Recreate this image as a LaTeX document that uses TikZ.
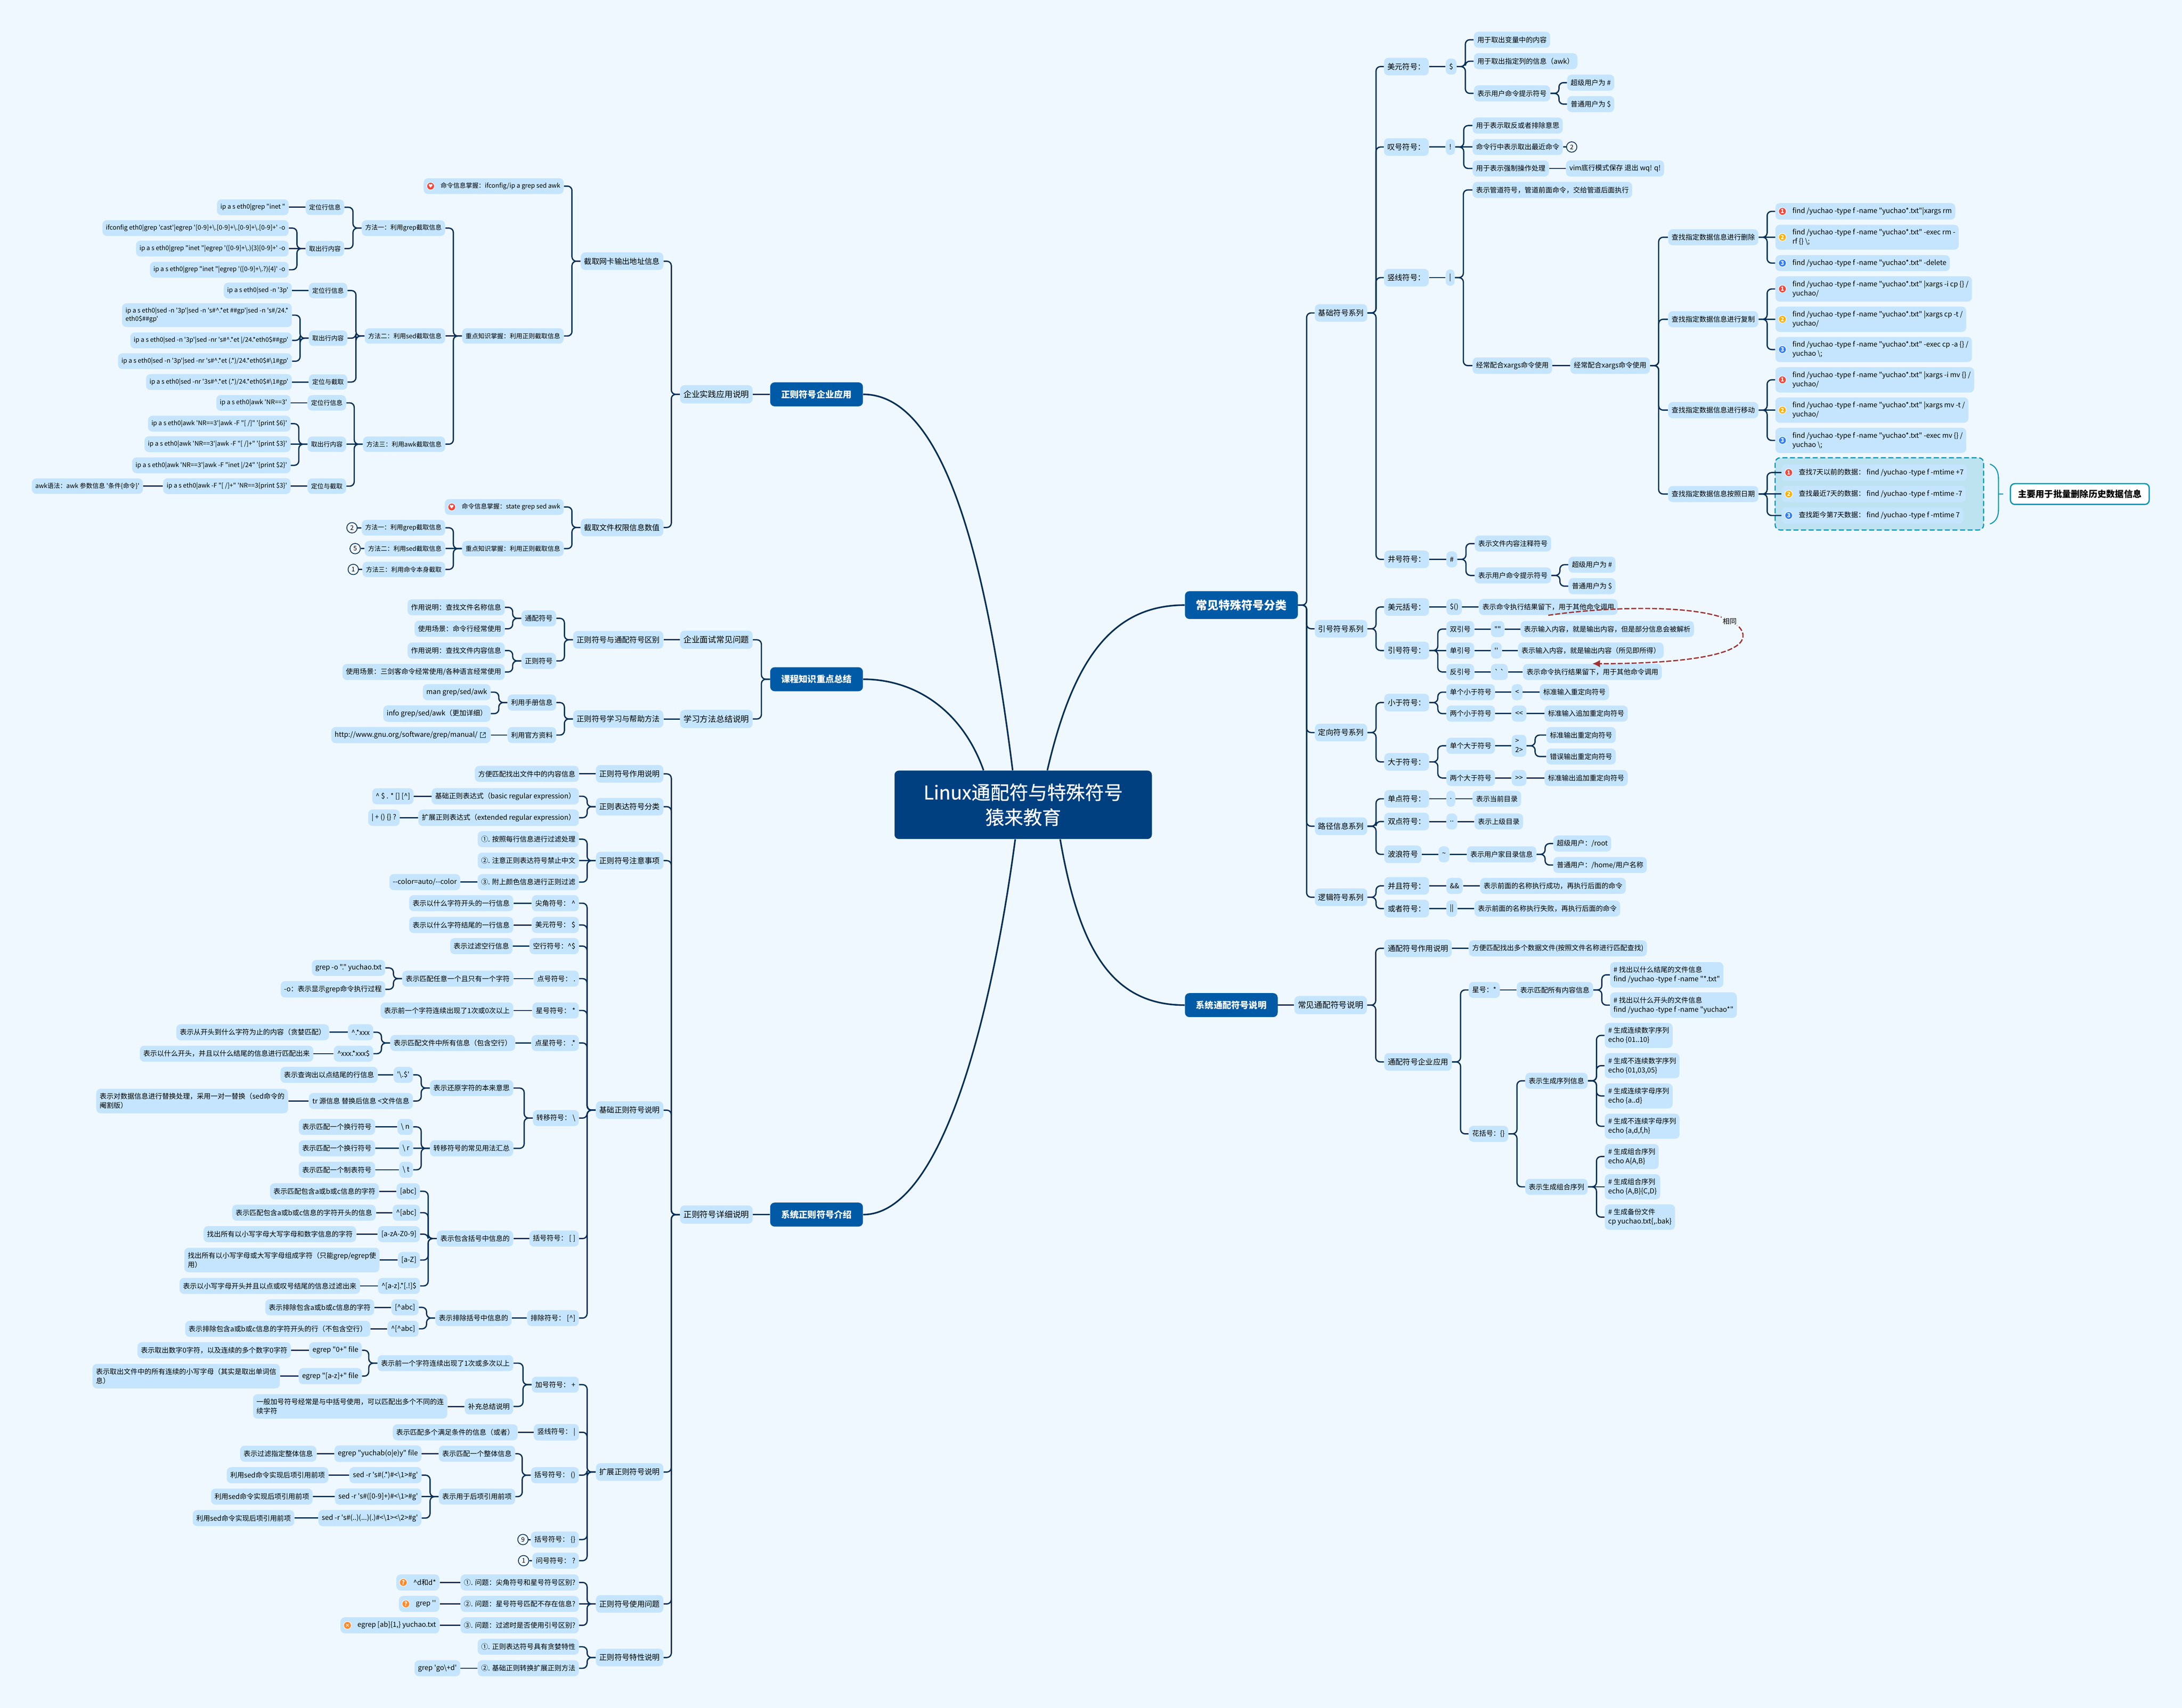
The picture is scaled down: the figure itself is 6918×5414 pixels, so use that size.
\documentclass[tikz,border=0pt]{standalone}
\usepackage{fontspec}
\usetikzlibrary{arrows.meta}
\newfontfamily\mapfont{Noto Sans CJK SC}
\newfontfamily\rootfont[FakeBold=0.4]{Noto Sans CJK SC}
\newfontfamily\symfont{DejaVu Sans}
\newcommand\ca{\textasciicircum}
\newcommand\bsl{\textbackslash}
\newcommand\mk{\hspace*{10.75pt}}
\definecolor{pagecol}{HTML}{F0F8FF}
\definecolor{nodecol}{HTML}{C5E5FF}
\definecolor{linecol}{HTML}{022F56}
\definecolor{rootcol}{HTML}{004080}
\definecolor{maincol}{HTML}{015AA5}
\definecolor{tealcol}{HTML}{0097B7}
\definecolor{groupcol}{HTML}{BEE3F0}
\definecolor{relcol}{HTML}{9E3232}
\definecolor{markred}{HTML}{F0483E}
\definecolor{markyel}{HTML}{FFB000}
\definecolor{markblue}{HTML}{2F7CF6}
\definecolor{markorg}{HTML}{FF8A2B}
\tikzset{>=latex}
\tikzset{
  topic/.style={fill=nodecol,rounded corners=3.5pt,align=left,inner xsep=2.75pt,inner ysep=3.5pt},
  leaf/.style={topic,font=\mapfont\fontsize{5.5}{7.25}\selectfont,minimum height=12.75pt},
  tiny/.style={topic,font=\mapfont\fontsize{5}{6.5}\selectfont,minimum height=12.25pt},
  stem/.style={topic,font=\mapfont\fontsize{6}{7.5}\selectfont,minimum height=14pt},
  limb/.style={topic,font=\mapfont\fontsize{6.5}{8}\selectfont,minimum height=14.5pt},
  branch/.style={fill=maincol,text=white,rounded corners=3.5pt,inner xsep=8.75pt,inner ysep=2pt,font=\mapfont\bfseries\fontsize{7}{8.5}\selectfont,minimum height=19pt},
  toright/.style={anchor=west},
  toleft/.style={anchor=east},
  marker/.style={circle,draw=white,line width=.4pt,inner sep=0pt,minimum size=6pt,text=white,font=\mapfont\bfseries\fontsize{4.5}{4.5}\selectfont},
  countmark/.style={circle,draw=linecol,line width=.6pt,fill=pagecol,inner sep=0pt,minimum size=8.25pt,font=\mapfont\fontsize{5}{5}\selectfont},
  link/.style={draw=linecol,line width=1pt,rounded corners=3.5pt},
  rlink/.style={link,to path={-- ++(27,0) |- (\tikztotarget)}},
  llink/.style={link,to path={-- ++(-27,0) |- (\tikztotarget)}},
  trunk/.style={draw=linecol,line width=1.25pt}
}
\begin{document}
\begin{tikzpicture}[x=.25pt,y=-.25pt]
  \fill [pagecol] (0,0) rectangle (6918,5414);
  \useasboundingbox (0,0) rectangle (6918,5414);
  \draw [fill=groupcol,draw=tealcol,line width=.9pt,dash pattern=on 4pt off 2pt,rounded corners=4pt] (5628,1451) rectangle (6289,1680);

  \node [fill=rootcol,text=white,rounded corners=3.5pt,align=center,minimum width=204pt,minimum height=54.25pt,font=\rootfont\fontsize{15}{19.75}\selectfont] (root) at (3244,2551) {Linux通配符与特殊符号\\猿来教育};
  \node [branch,toright,font=\mapfont\bfseries\fontsize{9}{11}\selectfont,minimum height=22pt] (sym) at (3756,1918) {常见特殊符号分类};
  \node [branch,toright] (wild) at (3756,3186) {系统通配符号说明};
  \node [branch,toright] (app) at (2441,1250) {正则符号企业应用};
  \node [branch,toright] (course) at (2441,2153) {课程知识重点总结};
  \node [branch,toright] (regex) at (2441,3850) {系统正则符号介绍};
  \draw [trunk] (root.55) .. controls (3400,2100) and (3520,1918) .. (sym.west);
  \draw [trunk] (root.317) .. controls (3420,3000) and (3520,3186) .. (wild.west);
  \draw [trunk] (root.107) .. controls (3130,1800) and (3000,1250) .. (app.east);
  \draw [trunk] (root.139) .. controls (3050,2250) and (2900,2153) .. (course.east);
  \draw [trunk] (root.257) .. controls (3140,3250) and (2980,3850) .. (regex.east);

  \node [stem,toright] (base) at (4168,992) {基础符号系列};
  \node [stem,toright] (quote) at (4168,1993) {引号符号系列};
  \node [stem,toright] (redir) at (4168,2322) {定向符号系列};
  \node [stem,toright] (path) at (4168,2619) {路径信息系列};
  \node [stem,toright] (logic) at (4168,2844) {逻辑符号系列};
  \draw [rlink] (sym.east) to (base.west);
  \draw [rlink] (sym.east) to (quote.west);
  \draw [rlink] (sym.east) to (redir.west);
  \draw [rlink] (sym.east) to (path.west);
  \draw [rlink] (sym.east) to (logic.west);

  \node [stem,toright] (dollar) at (4387,211) {美元符号：};
  \node [leaf,toright] (dollar0) at (4583,211) {\$};
  \node [leaf,toright] (dollar1) at (4672,126) {用于取出变量中的内容};
  \node [leaf,toright] (dollar2) at (4672,194) {用于取出指定列的信息（awk）};
  \node [leaf,toright] (dollar3) at (4672,296) {表示用户命令提示符号};
  \node [leaf,toright] (dollar4) at (4968,262) {超级用户为 \#};
  \node [leaf,toright] (dollar5) at (4968,330) {普通用户为 \$};
  \node [stem,toright] (bang) at (4387,466) {叹号符号：};
  \node [leaf,toright] (bang0) at (4583,466) {!};
  \node [leaf,toright] (bang1) at (4668,398) {用于表示取反或者排除意思};
  \node [leaf,toright] (bang2) at (4668,466) {命令行中表示取出最近命令};
  \node [countmark] (bang2c) at (4983,466) {2};
  \node [leaf,toright] (bang3) at (4668,534) {用于表示强制操作处理};
  \node [leaf,toright] (bang4) at (4964,534) {vim底行模式保存 退出 wq! q!};
  \node [stem,toright] (pipe) at (4387,880) {竖线符号：};
  \node [leaf,toright] (pipe0) at (4583,880) {|};
  \node [leaf,toright] (pipe1) at (4668,602) {表示管道符号，管道前面命令，交给管道后面执行};
  \node [leaf,toright] (pipe2) at (4668,1159) {经常配合xargs命令使用};
  \node [leaf,toright] (pipe3) at (4978,1159) {经常配合xargs命令使用};
  \node [leaf,toright] (del) at (5288,752) {查找指定数据信息进行删除};
  \node [leaf,toright] (del1) at (5628,670) {\mk find /yuchao -type f -name "yuchao*.txt"|xargs rm};
  \node [leaf,toright] (del2) at (5628,752) {\mk find /yuchao -type f -name "yuchao*.txt" -exec rm -\\\mk rf \{\} \bsl{};};
  \node [leaf,toright] (del3) at (5628,834) {\mk find /yuchao -type f -name "yuchao*.txt" -delete};
  \node [leaf,toright] (cpy) at (5288,1012) {查找指定数据信息进行复制};
  \node [leaf,toright] (cpy1) at (5628,916) {\mk find /yuchao -type f -name "yuchao*.txt" |xargs -i cp \{\} /\\\mk yuchao/};
  \node [leaf,toright] (cpy2) at (5628,1012) {\mk find /yuchao -type f -name "yuchao*.txt" |xargs cp -t /\\\mk yuchao/};
  \node [leaf,toright] (cpy3) at (5628,1108) {\mk find /yuchao -type f -name "yuchao*.txt" -exec cp -a \{\} /\\\mk yuchao \bsl{};};
  \node [leaf,toright] (mov) at (5288,1300) {查找指定数据信息进行移动};
  \node [leaf,toright] (mov1) at (5628,1204) {\mk find /yuchao -type f -name "yuchao*.txt" |xargs -i mv \{\} /\\\mk yuchao/};
  \node [leaf,toright] (mov2) at (5628,1300) {\mk find /yuchao -type f -name "yuchao*.txt" |xargs mv -t /\\\mk yuchao/};
  \node [leaf,toright] (mov3) at (5628,1396) {\mk find /yuchao -type f -name "yuchao*.txt" -exec mv \{\} /\\\mk yuchao \bsl{};};
  \node [leaf,toright] (dat) at (5288,1566) {查找指定数据信息按照日期};
  \node [leaf,toright] (dat1) at (5648,1498) {\mk 查找7天以前的数据： find /yuchao -type f -mtime +7};
  \node [leaf,toright] (dat2) at (5648,1566) {\mk 查找最近7天的数据： find /yuchao -type f -mtime -7};
  \node [leaf,toright] (dat3) at (5648,1634) {\mk 查找距今第7天数据： find /yuchao -type f -mtime 7};
  \node [marker,fill=markred] (del1m) at ([xshift=5.75pt]del1.west) {1};
  \node [marker,fill=markyel] (del2m) at ([xshift=5.75pt]del2.west) {2};
  \node [marker,fill=markblue] (del3m) at ([xshift=5.75pt]del3.west) {3};
  \node [marker,fill=markred] (cpy1m) at ([xshift=5.75pt]cpy1.west) {1};
  \node [marker,fill=markyel] (cpy2m) at ([xshift=5.75pt]cpy2.west) {2};
  \node [marker,fill=markblue] (cpy3m) at ([xshift=5.75pt]cpy3.west) {3};
  \node [marker,fill=markred] (mov1m) at ([xshift=5.75pt]mov1.west) {1};
  \node [marker,fill=markyel] (mov2m) at ([xshift=5.75pt]mov2.west) {2};
  \node [marker,fill=markblue] (mov3m) at ([xshift=5.75pt]mov3.west) {3};
  \node [marker,fill=markred] (dat1m) at ([xshift=5.75pt]dat1.west) {1};
  \node [marker,fill=markyel] (dat2m) at ([xshift=5.75pt]dat2.west) {2};
  \node [marker,fill=markblue] (dat3m) at ([xshift=5.75pt]dat3.west) {3};
  \node [fill=white,draw=tealcol,line width=1pt,rounded corners=3.5pt,minimum height=16.5pt,inner xsep=6pt,font=\mapfont\bfseries\fontsize{7}{8.5}\selectfont,anchor=west] (note) at (6372,1566) {主要用于批量删除历史数据信息};
  \coordinate (bracetip) at (6351,1566);
  \draw [draw=tealcol,line width=.8pt] (6309,1471) .. controls (6328,1478) and (6336,1495) .. (6336,1517) -- (6336,1616) .. controls (6336,1638) and (6328,1654) .. (6309,1661) (6336,1566) -- (bracetip);
  \node [stem,toright] (hash) at (4388,1773) {井号符号：};
  \node [leaf,toright] (hash0) at (4585,1773) {\#};
  \node [leaf,toright] (hash1) at (4675,1723) {表示文件内容注释符号};
  \node [leaf,toright] (hash2) at (4675,1824) {表示用户命令提示符号};
  \node [leaf,toright] (hash3) at (4972,1790) {超级用户为 \#};
  \node [leaf,toright] (hash4) at (4972,1858) {普通用户为 \$};
  \draw [rlink] (base.east) to (dollar.west);
  \draw [rlink] (base.east) to (bang.west);
  \draw [rlink] (base.east) to (pipe.west);
  \draw [rlink] (base.east) to (hash.west);
  \draw [link] (dollar.east) -- (dollar0.west);
  \draw [rlink] (dollar0.east) to (dollar1.west);
  \draw [rlink] (dollar0.east) to (dollar2.west);
  \draw [rlink] (dollar0.east) to (dollar3.west);
  \draw [rlink] (dollar3.east) to (dollar4.west);
  \draw [rlink] (dollar3.east) to (dollar5.west);
  \draw [link] (bang.east) -- (bang0.west);
  \draw [rlink] (bang0.east) to (bang1.west);
  \draw [link] (bang0.east) -- (bang2.west);
  \draw [rlink] (bang0.east) to (bang3.west);
  \draw [link] (bang2.east) -- (bang2c.west);
  \draw [link] (bang3.east) -- (bang4.west);
  \draw [link] (pipe.east) -- (pipe0.west);
  \draw [rlink] (pipe0.east) to (pipe1.west);
  \draw [rlink] (pipe0.east) to (pipe2.west);
  \draw [link] (pipe2.east) -- (pipe3.west);
  \draw [rlink] (pipe3.east) to (del.west);
  \draw [rlink] (pipe3.east) to (cpy.west);
  \draw [rlink] (pipe3.east) to (mov.west);
  \draw [rlink] (pipe3.east) to (dat.west);
  \draw [rlink] (del.east) to (del1.west);
  \draw [link] (del.east) -- (del2.west);
  \draw [rlink] (del.east) to (del3.west);
  \draw [rlink] (cpy.east) to (cpy1.west);
  \draw [link] (cpy.east) -- (cpy2.west);
  \draw [rlink] (cpy.east) to (cpy3.west);
  \draw [rlink] (mov.east) to (mov1.west);
  \draw [link] (mov.east) -- (mov2.west);
  \draw [rlink] (mov.east) to (mov3.west);
  \draw [rlink] (dat.east) to (dat1.west);
  \draw [link] (dat.east) -- (dat2.west);
  \draw [rlink] (dat.east) to (dat3.west);
  \draw [link] (hash.east) -- (hash0.west);
  \draw [rlink] (hash0.east) to (hash1.west);
  \draw [rlink] (hash0.east) to (hash2.west);
  \draw [rlink] (hash2.east) to (hash3.west);
  \draw [rlink] (hash2.east) to (hash4.west);

  \node [stem,toright] (paren) at (4388,1924) {美元括号：};
  \node [leaf,toright] (paren0) at (4585,1924) {\$()};
  \node [leaf,toright] (paren1) at (4688,1924) {表示命令执行结果留下，用于其他命令调用};
  \node [stem,toright] (qmark) at (4388,2062) {引号符号：};
  \node [leaf,toright] (dq) at (4585,1994) {双引号};
  \node [leaf,toright] (dq0) at (4726,1994) {""};
  \node [leaf,toright] (dq1) at (4820,1994) {表示输入内容，就是输出内容，但是部分信息会被解析};
  \node [leaf,toright] (sq) at (4585,2062) {单引号};
  \node [leaf,toright] (sq0) at (4726,2062) {''};
  \node [leaf,toright] (sq1) at (4812,2062) {表示输入内容，就是输出内容（所见即所得）};
  \node [leaf,toright] (bq) at (4585,2130) {反引号};
  \node [leaf,toright] (bq0) at (4726,2130) {` `};
  \node [leaf,toright] (bq1) at (4828,2130) {表示命令执行结果留下，用于其他命令调用};
  \draw [rlink] (quote.east) to (paren.west);
  \draw [rlink] (quote.east) to (qmark.west);
  \draw [link] (paren.east) -- (paren0.west);
  \draw [link] (paren0.east) -- (paren1.west);
  \draw [rlink] (qmark.east) to (dq.west);
  \draw [link] (qmark.east) -- (sq.west);
  \draw [rlink] (qmark.east) to (bq.west);
  \draw [link] (dq.east) -- (dq0.west);
  \draw [link] (dq0.east) -- (dq1.west);
  \draw [link] (sq.east) -- (sq0.west);
  \draw [link] (sq0.east) -- (sq1.west);
  \draw [link] (bq.east) -- (bq0.west);
  \draw [link] (bq0.east) -- (bq1.west);
  \draw [draw=relcol,line width=1pt,dash pattern=on 4pt off 1.5pt,-{Latex[length=6pt,width=6pt]}] (paren1.south) .. controls (5150,1915) and (5510,1915) .. (5526,2011) .. controls (5536,2090) and (5250,2104) .. (bq1.north);
  \node [fill=pagecol,font=\mapfont\fontsize{5.5}{7.25}\selectfont,inner sep=1pt] (same) at (5484,1969) {相同};

  \node [stem,toright] (less) at (4388,2227) {小于符号：};
  \node [leaf,toright] (less1) at (4585,2194) {单个小于符号};
  \node [leaf,toright] (less2) at (4792,2194) {<};
  \node [leaf,toright] (less3) at (4881,2194) {标准输入重定向符号};
  \node [leaf,toright] (less4) at (4585,2262) {两个小于符号};
  \node [leaf,toright] (less5) at (4792,2262) {<<};
  \node [leaf,toright] (less6) at (4896,2262) {标准输入追加重定向符号};
  \node [stem,toright] (more) at (4388,2415) {大于符号：};
  \node [leaf,toright] (more1) at (4585,2364) {单个大于符号};
  \node [leaf,toright] (more2) at (4792,2364) {>\\2>};
  \node [leaf,toright] (more3) at (4902,2330) {标准输出重定向符号};
  \node [leaf,toright] (more4) at (4902,2398) {错误输出重定向符号};
  \node [leaf,toright] (more5) at (4585,2466) {两个大于符号};
  \node [leaf,toright] (more6) at (4792,2466) {>>};
  \node [leaf,toright] (more7) at (4896,2466) {标准输出追加重定向符号};
  \draw [rlink] (redir.east) to (less.west);
  \draw [rlink] (redir.east) to (more.west);
  \draw [rlink] (less.east) to (less1.west);
  \draw [rlink] (less.east) to (less4.west);
  \draw [link] (less1.east) -- (less2.west);
  \draw [link] (less2.east) -- (less3.west);
  \draw [link] (less4.east) -- (less5.west);
  \draw [link] (less5.east) -- (less6.west);
  \draw [rlink] (more.east) to (more1.west);
  \draw [rlink] (more.east) to (more5.west);
  \draw [link] (more1.east) -- (more2.west);
  \draw [rlink] (more2.east) to (more3.west);
  \draw [rlink] (more2.east) to (more4.west);
  \draw [link] (more5.east) -- (more6.west);
  \draw [link] (more6.east) -- (more7.west);

  \node [stem,toright] (dot) at (4388,2532) {单点符号：};
  \node [leaf,toright] (dot0) at (4585,2532) {.};
  \node [leaf,toright] (dot1) at (4668,2532) {表示当前目录};
  \node [stem,toright] (ddot) at (4388,2604) {双点符号：};
  \node [leaf,toright] (ddot0) at (4585,2604) {..};
  \node [leaf,toright] (ddot1) at (4674,2604) {表示上级目录};
  \node [stem,toright] (tilde) at (4388,2708) {波浪符号};
  \node [leaf,toright] (tilde0) at (4560,2708) {\textasciitilde{}};
  \node [leaf,toright] (tilde1) at (4650,2708) {表示用户家目录信息};
  \node [leaf,toright] (tilde2) at (4924,2674) {超级用户：/root};
  \node [leaf,toright] (tilde3) at (4924,2742) {普通用户：/home/用户名称};
  \draw [rlink] (path.east) to (dot.west);
  \draw [rlink] (path.east) to (ddot.west);
  \draw [rlink] (path.east) to (tilde.west);
  \draw [link] (dot.east) -- (dot0.west);
  \draw [link] (dot0.east) -- (dot1.west);
  \draw [link] (ddot.east) -- (ddot0.west);
  \draw [link] (ddot0.east) -- (ddot1.west);
  \draw [link] (tilde.east) -- (tilde0.west);
  \draw [link] (tilde0.east) -- (tilde1.west);
  \draw [rlink] (tilde1.east) to (tilde2.west);
  \draw [rlink] (tilde1.east) to (tilde3.west);

  \node [stem,toright] (andb) at (4388,2808) {并且符号：};
  \node [leaf,toright] (andb0) at (4585,2808) {\&\&};
  \node [leaf,toright] (andb1) at (4692,2808) {表示前面的名称执行成功，再执行后面的命令};
  \node [stem,toright] (orb) at (4388,2880) {或者符号：};
  \node [leaf,toright] (orb0) at (4585,2880) {||};
  \node [leaf,toright] (orb1) at (4674,2880) {表示前面的名称执行失败，再执行后面的命令};
  \draw [rlink] (logic.east) to (andb.west);
  \draw [rlink] (logic.east) to (orb.west);
  \draw [link] (andb.east) -- (andb0.west);
  \draw [link] (andb0.east) -- (andb1.west);
  \draw [link] (orb.east) -- (orb0.west);
  \draw [link] (orb0.east) -- (orb1.west);

  \node [limb,toright] (wild0) at (4103,3186) {常见通配符号说明};
  \node [stem,toright] (wild1) at (4388,3006) {通配符号作用说明};
  \node [leaf,toright] (wild2) at (4656,3006) {方便匹配找出多个数据文件(按照文件名称进行匹配查找)};
  \node [stem,toright] (wild3) at (4388,3366) {通配符号企业应用};
  \node [leaf,toright] (star) at (4656,3138) {星号：*};
  \node [leaf,toright] (star0) at (4808,3138) {表示匹配所有内容信息};
  \node [leaf,toright] (star1) at (5104,3090) {\# 找出以什么结尾的文件信息\\find /yuchao -type f -name "*.txt"};
  \node [leaf,toright] (star2) at (5104,3186) {\# 找出以什么开头的文件信息\\find /yuchao -type f -name "yuchao*"};
  \node [leaf,toright] (brace) at (4656,3594) {花括号：\{\}};
  \node [leaf,toright] (seq) at (4835,3426) {表示生成序列信息};
  \node [leaf,toright] (seq1) at (5087,3282) {\# 生成连续数字序列\\echo \{01..10\}};
  \node [leaf,toright] (seq2) at (5087,3378) {\# 生成不连续数字序列\\echo \{01,03,05\}};
  \node [leaf,toright] (seq3) at (5087,3474) {\# 生成连续字母序列\\echo \{a..d\}};
  \node [leaf,toright] (seq4) at (5087,3570) {\# 生成不连续字母序列\\echo \{a,d,f,h\}};
  \node [leaf,toright] (comb) at (4835,3762) {表示生成组合序列};
  \node [leaf,toright] (comb1) at (5087,3666) {\# 生成组合序列\\echo A\{A,B\}};
  \node [leaf,toright] (comb2) at (5087,3762) {\# 生成组合序列\\echo \{A,B\}\{C,D\}};
  \node [leaf,toright] (comb3) at (5087,3858) {\# 生成备份文件\\cp yuchao.txt\{,.bak\}};
  \draw [link] (wild.east) -- (wild0.west);
  \draw [rlink] (wild0.east) to (wild1.west);
  \draw [rlink] (wild0.east) to (wild3.west);
  \draw [link] (wild1.east) -- (wild2.west);
  \draw [rlink] (wild3.east) to (star.west);
  \draw [rlink] (wild3.east) to (brace.west);
  \draw [link] (star.east) -- (star0.west);
  \draw [rlink] (star0.east) to (star1.west);
  \draw [rlink] (star0.east) to (star2.west);
  \draw [rlink] (brace.east) to (seq.west);
  \draw [rlink] (brace.east) to (comb.west);
  \draw [rlink] (seq.east) to (seq1.west);
  \draw [rlink] (seq.east) to (seq2.west);
  \draw [rlink] (seq.east) to (seq3.west);
  \draw [rlink] (seq.east) to (seq4.west);
  \draw [rlink] (comb.east) to (comb1.west);
  \draw [link] (comb.east) -- (comb2.west);
  \draw [rlink] (comb.east) to (comb3.west);

  \node [limb,toleft] (app0) at (2387,1250) {企业实践应用说明};
  \node [stem,toleft] (net) at (2104,828) {截取网卡输出地址信息};
  \node [stem,toleft] (perm) at (2104,1672) {截取文件权限信息数值};
  \node [tiny,toleft] (net1) at (1788,590) {\mk 命令信息掌握：ifconfig/ip a grep sed awk};
  \node [marker,fill=markred,font=\symfont\fontsize{4}{4}\selectfont] (net1m) at ([xshift=5.75pt]net1.west) {♥};
  \node [tiny,toleft] (net2) at (1788,1065) {重点知识掌握：利用正则截取信息};
  \node [tiny,toleft] (ga) at (1412,723) {方法一：利用grep截取信息};
  \node [tiny,toleft] (ga1) at (1092,657) {定位行信息};
  \node [tiny,toleft] (ga2) at (916,657) {ip a s eth0|grep "inet "};
  \node [tiny,toleft] (ga3) at (1092,788) {取出行内容};
  \node [tiny,toleft] (ga4) at (916,723) {ifconfig eth0|grep 'cast'|egrep '[0-9]+\bsl{}.[0-9]+\bsl{}.[0-9]+\bsl{}.[0-9]+' -o};
  \node [tiny,toleft] (ga5) at (916,788) {ip a s eth0|grep "inet "|egrep '([0-9]+\bsl{}.)\{3\}[0-9]+' -o};
  \node [tiny,toleft] (ga6) at (916,855) {ip a s eth0|grep "inet "|egrep '([0-9]+\bsl{}.?)\{4\}' -o};
  \node [tiny,toleft] (sa) at (1412,1065) {方法二：利用sed截取信息};
  \node [tiny,toleft] (sa1) at (1102,921) {定位行信息};
  \node [tiny,toleft] (sa2) at (926,921) {ip a s eth0|sed -n '3p'};
  \node [tiny,toleft] (sa3) at (1102,1072) {取出行内容};
  \node [tiny,toleft] (sa4) at (926,999) {ip a s eth0|sed -n '3p'|sed -n 's\#\ca{}.*et \#\#gp'|sed -n 's\#/24.*\\eth0\$\#\#gp'};
  \node [tiny,toleft] (sa5) at (926,1079) {ip a s eth0|sed -n '3p'|sed -nr 's\#\ca{}.*et |/24.*eth0\$\#\#gp'};
  \node [tiny,toleft] (sa6) at (926,1145) {ip a s eth0|sed -n '3p'|sed -nr 's\#\ca{}.*et (.*)/24.*eth0\$\#\bsl{}1\#gp'};
  \node [tiny,toleft] (sa7) at (1102,1211) {定位与截取};
  \node [tiny,toleft] (sa8) at (926,1211) {ip a s eth0|sed -nr '3s\#\ca{}.*et (.*)/24.*eth0\$\#\bsl{}1\#gp'};
  \node [tiny,toleft] (wa) at (1412,1408) {方法三：利用awk截取信息};
  \node [tiny,toleft] (wa1) at (1098,1277) {定位行信息};
  \node [tiny,toleft] (wa2) at (922,1277) {ip a s eth0|awk 'NR==3'};
  \node [tiny,toleft] (wa3) at (1098,1408) {取出行内容};
  \node [tiny,toleft] (wa4) at (922,1343) {ip a s eth0|awk 'NR==3'|awk -F "[ /]" '\{print \$6\}'};
  \node [tiny,toleft] (wa5) at (922,1408) {ip a s eth0|awk 'NR==3'|awk -F "[ /]+" '\{print \$3\}'};
  \node [tiny,toleft] (wa6) at (922,1475) {ip a s eth0|awk 'NR==3'|awk -F "inet |/24" '\{print \$2\}'};
  \node [tiny,toleft] (wa7) at (1098,1541) {定位与截取};
  \node [tiny,toleft] (wa8) at (922,1541) {ip a s eth0|awk -F "[ /]+" 'NR==3\{print \$3\}'};
  \node [tiny,toleft] (wa9) at (454,1541) {awk语法：awk 参数信息 '条件\{命令\}'};
  \node [tiny,toleft] (perm1) at (1788,1607) {\mk 命令信息掌握：state grep sed awk};
  \node [marker,fill=markred,font=\symfont\fontsize{4}{4}\selectfont] (perm1m) at ([xshift=5.75pt]perm1.west) {♥};
  \node [tiny,toleft] (perm2) at (1788,1739) {重点知识掌握：利用正则截取信息};
  \node [tiny,toleft] (pa) at (1412,1673) {方法一：利用grep截取信息};
  \node [tiny,toleft] (pb) at (1412,1739) {方法二：利用sed截取信息};
  \node [tiny,toleft] (pc) at (1412,1805) {方法三：利用命令本身截取};
  \node [countmark] (pac) at (1116,1673) {2};
  \node [countmark] (pbc) at (1126,1739) {5};
  \node [countmark] (pcc) at (1120,1805) {1};
  \draw [link] (app.west) -- (app0.east);
  \draw [llink] (app0.west) to (net.east);
  \draw [llink] (app0.west) to (perm.east);
  \draw [llink] (net.west) to (net1.east);
  \draw [llink] (net.west) to (net2.east);
  \draw [link] (net2.west) -- (sa.east);
  \draw [llink] (net2.west) to (ga.east);
  \draw [llink] (net2.west) to (wa.east);
  \draw [llink] (ga.west) to (ga1.east);
  \draw [llink] (ga.west) to (ga3.east);
  \draw [link] (ga1.west) -- (ga2.east);
  \draw [llink] (ga3.west) to (ga4.east);
  \draw [link] (ga3.west) -- (ga5.east);
  \draw [llink] (ga3.west) to (ga6.east);
  \draw [llink] (sa.west) to (sa1.east);
  \draw [llink] (sa.west) to (sa3.east);
  \draw [llink] (sa.west) to (sa7.east);
  \draw [link] (sa1.west) -- (sa2.east);
  \draw [llink] (sa3.west) to (sa4.east);
  \draw [llink] (sa3.west) to (sa5.east);
  \draw [llink] (sa3.west) to (sa6.east);
  \draw [link] (sa7.west) -- (sa8.east);
  \draw [llink] (wa.west) to (wa1.east);
  \draw [link] (wa.west) -- (wa3.east);
  \draw [llink] (wa.west) to (wa7.east);
  \draw [link] (wa1.west) -- (wa2.east);
  \draw [llink] (wa3.west) to (wa4.east);
  \draw [link] (wa3.west) -- (wa5.east);
  \draw [llink] (wa3.west) to (wa6.east);
  \draw [link] (wa7.west) -- (wa8.east);
  \draw [link] (wa8.west) -- (wa9.east);
  \draw [llink] (perm.west) to (perm1.east);
  \draw [llink] (perm.west) to (perm2.east);
  \draw [llink] (perm2.west) to (pa.east);
  \draw [link] (perm2.west) -- (pb.east);
  \draw [llink] (perm2.west) to (pc.east);
  \draw [link] (pa.west) -- (pac.east);
  \draw [link] (pb.west) -- (pbc.east);
  \draw [link] (pc.west) -- (pcc.east);

  \node [limb,toleft] (ask) at (2387,2028) {企业面试常见问题};
  \node [limb,toleft] (learn) at (2387,2279) {学习方法总结说明};
  \node [stem,toleft] (diff) at (2104,2028) {正则符号与通配符号区别};
  \node [stem,toleft] (help) at (2104,2279) {正则符号学习与帮助方法};
  \node [leaf,toleft] (diff1) at (1764,1960) {通配符号};
  \node [leaf,toleft] (diff2) at (1601,1925) {作用说明：查找文件名称信息};
  \node [leaf,toleft] (diff3) at (1601,1993) {使用场景：命令行经常使用};
  \node [leaf,toleft] (diff4) at (1764,2095) {正则符号};
  \node [leaf,toleft] (diff5) at (1601,2062) {作用说明：查找文件内容信息};
  \node [leaf,toleft] (diff6) at (1601,2130) {使用场景：三剑客命令经常使用/各种语言经常使用};
  \node [leaf,toleft] (help1) at (1764,2227) {利用手册信息};
  \node [leaf,toleft] (help2) at (1556,2194) {man grep/sed/awk};
  \node [leaf,toleft] (help3) at (1556,2262) {info grep/sed/awk（更加详细）};
  \node [leaf,toleft] (help4) at (1764,2330) {利用官方资料};
  \node [leaf,toleft] (help5) at (1556,2330) {http://www.gnu.org/software/grep/manual/\hspace{7.5pt}};
  \begin{scope}[shift={(1531,2330)},draw=linecol,line width=.4pt]
    \draw (-2,-8) -- (-8,-8) -- (-8,8) -- (8,8) -- (8,2) (1,-8) -- (8,-8) -- (8,-1) (8,-8) -- (-1,1);
  \end{scope}
  \draw [llink] (course.west) to (ask.east);
  \draw [llink] (course.west) to (learn.east);
  \draw [link] (ask.west) -- (diff.east);
  \draw [link] (learn.west) -- (help.east);
  \draw [llink] (diff.west) to (diff1.east);
  \draw [llink] (diff.west) to (diff4.east);
  \draw [llink] (diff1.west) to (diff2.east);
  \draw [llink] (diff1.west) to (diff3.east);
  \draw [llink] (diff4.west) to (diff5.east);
  \draw [llink] (diff4.west) to (diff6.east);
  \draw [llink] (help.west) to (help1.east);
  \draw [llink] (help.west) to (help4.east);
  \draw [llink] (help1.west) to (help2.east);
  \draw [llink] (help1.west) to (help3.east);
  \draw [link] (help4.west) -- (help5.east);

  \node [limb,toleft] (re0) at (2387,3850) {正则符号详细说明};
  \node [stem,toleft] (use) at (2104,2453) {正则符号作用说明};
  \node [leaf,toleft] (use1) at (1836,2453) {方便匹配找出文件中的内容信息};
  \node [stem,toleft] (kind) at (2104,2557) {正则表达符号分类};
  \node [leaf,toleft] (kind1) at (1836,2524) {基础正则表达式（basic regular expression）};
  \node [leaf,toleft] (kind2) at (1312,2524) {\ca{} \$ . * [] [\ca{}]};
  \node [leaf,toleft] (kind3) at (1836,2592) {扩展正则表达式（extended regular expression）};
  \node [leaf,toleft] (kind4) at (1268,2592) {| + () \{\} ?};
  \node [stem,toleft] (care) at (2104,2728) {正则符号注意事项};
  \node [leaf,toleft] (care1) at (1836,2660) {①. 按照每行信息进行过滤处理};
  \node [leaf,toleft] (care2) at (1836,2728) {②. 注意正则表达符号禁止中文};
  \node [leaf,toleft] (care3) at (1836,2796) {③. 附上颜色信息进行正则过滤};
  \node [leaf,toleft] (care4) at (1460,2796) {--color=auto/--color};
  \node [stem,toleft] (basic) at (2104,3519) {基础正则符号说明};
  \node [stem,toleft] (ext) at (2104,4666) {扩展正则符号说明};
  \node [stem,toleft] (prob) at (2104,5084) {正则符号使用问题};
  \node [stem,toleft] (trait) at (2104,5254) {正则符号特性说明};
  \draw [link] (regex.west) -- (re0.east);
  \draw [llink] (re0.west) to (use.east);
  \draw [llink] (re0.west) to (kind.east);
  \draw [llink] (re0.west) to (care.east);
  \draw [llink] (re0.west) to (basic.east);
  \draw [llink] (re0.west) to (ext.east);
  \draw [llink] (re0.west) to (prob.east);
  \draw [llink] (re0.west) to (trait.east);
  \draw [link] (use.west) -- (use1.east);
  \draw [llink] (kind.west) to (kind1.east);
  \draw [llink] (kind.west) to (kind3.east);
  \draw [link] (kind1.west) -- (kind2.east);
  \draw [link] (kind3.west) -- (kind4.east);
  \draw [llink] (care.west) to (care1.east);
  \draw [link] (care.west) -- (care2.east);
  \draw [llink] (care.west) to (care3.east);
  \draw [link] (care3.west) -- (care4.east);

  \node [leaf,toleft] (bs1) at (1836,2863) {尖角符号： \ca{}};
  \node [leaf,toleft] (bs1a) at (1628,2863) {表示以什么字符开头的一行信息};
  \node [leaf,toleft] (bs2) at (1836,2932) {美元符号： \$};
  \node [leaf,toleft] (bs2a) at (1628,2932) {表示以什么字符结尾的一行信息};
  \node [leaf,toleft] (bs3) at (1836,2999) {空行符号：\ca{}\$};
  \node [leaf,toleft] (bs3a) at (1626,2999) {表示过滤空行信息};
  \node [leaf,toleft] (bs4) at (1836,3102) {点号符号： .};
  \node [leaf,toleft] (bs4a) at (1628,3102) {表示匹配任意一个且只有一个字符};
  \node [leaf,toleft] (bs4b) at (1222,3068) {grep -o "." yuchao.txt};
  \node [leaf,toleft] (bs4c) at (1222,3136) {-o：表示显示grep命令执行过程};
  \node [leaf,toleft] (bs5) at (1836,3203) {星号符号： *};
  \node [leaf,toleft] (bs5a) at (1628,3203) {表示前一个字符连续出现了1次或0次以上};
  \node [leaf,toleft] (bs6) at (1836,3306) {点星符号： .*};
  \node [leaf,toleft] (bs6a) at (1634,3306) {表示匹配文件中所有信息（包含空行）};
  \node [leaf,toleft] (bs6b) at (1184,3272) {\ca{}.*xxx};
  \node [leaf,toleft] (bs6c) at (1044,3272) {表示从开头到什么字符为止的内容（贪婪匹配）};
  \node [leaf,toleft] (bs6d) at (1184,3340) {\ca{}xxx.*xxx\$};
  \node [leaf,toleft] (bs6e) at (994,3340) {表示以什么开头，并且以什么结尾的信息进行匹配出来};
  \draw [llink] (basic.west) to (bs1.east);
  \draw [llink] (basic.west) to (bs2.east);
  \draw [llink] (basic.west) to (bs3.east);
  \draw [llink] (basic.west) to (bs4.east);
  \draw [llink] (basic.west) to (bs5.east);
  \draw [llink] (basic.west) to (bs6.east);
  \draw [link] (bs1.west) -- (bs1a.east);
  \draw [link] (bs2.west) -- (bs2a.east);
  \draw [link] (bs3.west) -- (bs3a.east);
  \draw [link] (bs4.west) -- (bs4a.east);
  \draw [llink] (bs4a.west) to (bs4b.east);
  \draw [llink] (bs4a.west) to (bs4c.east);
  \draw [link] (bs5.west) -- (bs5a.east);
  \draw [link] (bs6.west) -- (bs6a.east);
  \draw [llink] (bs6a.west) to (bs6b.east);
  \draw [llink] (bs6a.west) to (bs6d.east);
  \draw [link] (bs6b.west) -- (bs6c.east);
  \draw [link] (bs6d.west) -- (bs6e.east);

  \node [leaf,toleft] (esc) at (1836,3544) {转移符号： \bsl{}};
  \node [leaf,toleft] (esc1) at (1628,3449) {表示还原字符的本来意思};
  \node [leaf,toleft] (esc2) at (1310,3407) {'\bsl{}.\$'};
  \node [leaf,toleft] (esc3) at (1198,3407) {表示查询出以点结尾的行信息};
  \node [leaf,toleft] (esc4) at (1310,3490) {tr 源信息 替换后信息 <文件信息};
  \node [leaf,toleft] (esc5) at (914,3490) {表示对数据信息进行替换处理，采用一对一替换（sed命令的\\阉割版）};
  \node [leaf,toleft] (esc6) at (1628,3640) {转移符号的常见用法汇总};
  \node [leaf,toleft] (esc7) at (1310,3572) {\bsl{} n};
  \node [leaf,toleft] (esc8) at (1190,3572) {表示匹配一个换行符号};
  \node [leaf,toleft] (esc9) at (1310,3640) {\bsl{} r};
  \node [leaf,toleft] (esc10) at (1190,3640) {表示匹配一个换行符号};
  \node [leaf,toleft] (esc11) at (1310,3708) {\bsl{} t};
  \node [leaf,toleft] (esc12) at (1190,3708) {表示匹配一个制表符号};
  \draw [llink] (basic.west) to (esc.east);
  \draw [llink] (esc.west) to (esc1.east);
  \draw [llink] (esc.west) to (esc6.east);
  \draw [llink] (esc1.west) to (esc2.east);
  \draw [llink] (esc1.west) to (esc4.east);
  \draw [link] (esc2.west) -- (esc3.east);
  \draw [link] (esc4.west) -- (esc5.east);
  \draw [llink] (esc6.west) to (esc7.east);
  \draw [link] (esc6.west) -- (esc9.east);
  \draw [llink] (esc6.west) to (esc11.east);
  \draw [link] (esc7.west) -- (esc8.east);
  \draw [link] (esc9.west) -- (esc10.east);
  \draw [link] (esc11.west) -- (esc12.east);

  \node [leaf,toleft] (brk) at (1836,3926) {括号符号： [ ]};
  \node [leaf,toleft] (brk0) at (1628,3926) {表示包含括号中信息的};
  \node [leaf,toleft] (brk1) at (1332,3776) {[abc]};
  \node [leaf,toleft] (brk2) at (1202,3776) {表示匹配包含a或b或c信息的字符};
  \node [leaf,toleft] (brk3) at (1332,3844) {\ca{}[abc]};
  \node [leaf,toleft] (brk4) at (1192,3844) {表示匹配包含a或b或c信息的字符开头的信息};
  \node [leaf,toleft] (brk5) at (1332,3912) {[a-zA-Z0-9]};
  \node [leaf,toleft] (brk6) at (1130,3912) {找出所有以小写字母大写字母和数字信息的字符};
  \node [leaf,toleft] (brk7) at (1332,3994) {[a-Z]};
  \node [leaf,toleft] (brk8) at (1204,3994) {找出所有以小写字母或大写字母组成字符（只能grep/egrep使\\用）};
  \node [leaf,toleft] (brk9) at (1332,4076) {\ca{}[a-z].*[.!]\$};
  \node [leaf,toleft] (brk10) at (1142,4076) {表示以小写字母开头并且以点或叹号结尾的信息过滤出来};
  \node [leaf,toleft] (neg) at (1836,4178) {排除符号： [\ca{}]};
  \node [leaf,toleft] (neg0) at (1623,4178) {表示排除括号中信息的};
  \node [leaf,toleft] (neg1) at (1328,4144) {[\ca{}abc]};
  \node [leaf,toleft] (neg2) at (1187,4144) {表示排除包含a或b或c信息的字符};
  \node [leaf,toleft] (neg3) at (1328,4212) {\ca{}[\ca{}abc]};
  \node [leaf,toleft] (neg4) at (1175,4212) {表示排除包含a或b或c信息的字符开头的行（不包含空行）};
  \draw [llink] (basic.west) to (brk.east);
  \draw [llink] (basic.west) to (neg.east);
  \draw [link] (brk.west) -- (brk0.east);
  \draw [llink] (brk0.west) to (brk1.east);
  \draw [llink] (brk0.west) to (brk3.east);
  \draw [llink] (brk0.west) to (brk5.east);
  \draw [llink] (brk0.west) to (brk7.east);
  \draw [llink] (brk0.west) to (brk9.east);
  \draw [link] (brk1.west) -- (brk2.east);
  \draw [link] (brk3.west) -- (brk4.east);
  \draw [link] (brk5.west) -- (brk6.east);
  \draw [link] (brk7.west) -- (brk8.east);
  \draw [link] (brk9.west) -- (brk10.east);
  \draw [link] (neg.west) -- (neg0.east);
  \draw [llink] (neg0.west) to (neg1.east);
  \draw [llink] (neg0.west) to (neg3.east);
  \draw [link] (neg1.west) -- (neg2.east);
  \draw [link] (neg3.west) -- (neg4.east);

  \node [leaf,toleft] (plus) at (1836,4389) {加号符号： +};
  \node [leaf,toleft] (plus1) at (1628,4321) {表示前一个字符连续出现了1次或多次以上};
  \node [leaf,toleft] (plus2) at (1148,4280) {egrep "0+" file};
  \node [leaf,toleft] (plus3) at (923,4280) {表示取出数字0字符，以及连续的多个数字0字符};
  \node [leaf,toleft] (plus4) at (1148,4362) {egrep "[a-z]+" file};
  \node [leaf,toleft] (plus5) at (888,4362) {表示取出文件中的所有连续的小写字母（其实是取出单词信\\息）};
  \node [leaf,toleft] (plus6) at (1628,4458) {补充总结说明};
  \node [leaf,toleft] (plus7) at (1419,4458) {一般加号符号经常是与中括号使用，可以匹配出多个不同的连\\续字符};
  \node [leaf,toleft] (vbar) at (1836,4540) {竖线符号： |};
  \node [leaf,toleft] (vbar1) at (1642,4540) {表示匹配多个满足条件的信息（或者）};
  \node [leaf,toleft] (grp) at (1836,4676) {括号符号： ()};
  \node [leaf,toleft] (grp1) at (1634,4608) {表示匹配一个整体信息};
  \node [leaf,toleft] (grp2) at (1337,4608) {egrep "yuchab(o|e)y" file};
  \node [leaf,toleft] (grp3) at (1004,4608) {表示过滤指定整体信息};
  \node [leaf,toleft] (grp4) at (1634,4744) {表示用于后项引用前项};
  \node [leaf,toleft] (grp5) at (1337,4676) {sed -r 's\#(.*)\#<\bsl{}1>\#g'};
  \node [leaf,toleft] (grp6) at (1042,4676) {利用sed命令实现后项引用前项};
  \node [leaf,toleft] (grp7) at (1337,4744) {sed -r 's\#([0-9]+)\#<\bsl{}1>\#g'};
  \node [leaf,toleft] (grp8) at (992,4744) {利用sed命令实现后项引用前项};
  \node [leaf,toleft] (grp9) at (1337,4812) {sed -r 's\#(..)(...)(.)\#<\bsl{}1><\bsl{}2>\#g'};
  \node [leaf,toleft] (grp10) at (934,4812) {利用sed命令实现后项引用前项};
  \node [leaf,toleft] (cbr) at (1836,4880) {括号符号： \{\}};
  \node [countmark] (cbrc) at (1658,4880) {9};
  \node [leaf,toleft] (ques) at (1836,4947) {问号符号： ?};
  \node [countmark] (quesc) at (1660,4947) {1};
  \draw [llink] (ext.west) to (plus.east);
  \draw [llink] (ext.west) to (vbar.east);
  \draw [llink] (ext.west) to (grp.east);
  \draw [llink] (ext.west) to (cbr.east);
  \draw [llink] (ext.west) to (ques.east);
  \draw [llink] (plus.west) to (plus1.east);
  \draw [llink] (plus.west) to (plus6.east);
  \draw [llink] (plus1.west) to (plus2.east);
  \draw [llink] (plus1.west) to (plus4.east);
  \draw [link] (plus2.west) -- (plus3.east);
  \draw [link] (plus4.west) -- (plus5.east);
  \draw [link] (plus6.west) -- (plus7.east);
  \draw [link] (vbar.west) -- (vbar1.east);
  \draw [llink] (grp.west) to (grp1.east);
  \draw [llink] (grp.west) to (grp4.east);
  \draw [link] (grp1.west) -- (grp2.east);
  \draw [link] (grp2.west) -- (grp3.east);
  \draw [llink] (grp4.west) to (grp5.east);
  \draw [link] (grp4.west) -- (grp7.east);
  \draw [llink] (grp4.west) to (grp9.east);
  \draw [link] (grp5.west) -- (grp6.east);
  \draw [link] (grp7.west) -- (grp8.east);
  \draw [link] (grp9.west) -- (grp10.east);
  \draw [link] (cbr.west) -- (cbrc.east);
  \draw [link] (ques.west) -- (quesc.east);

  \node [leaf,toleft] (prob1) at (1836,5016) {①. 问题：尖角符号和星号符号区别?};
  \node [leaf,toleft] (prob1a) at (1394,5016) {\mk \ca{}d和d*};
  \node [leaf,toleft] (prob2) at (1836,5084) {②. 问题：星号符号匹配不存在信息?};
  \node [leaf,toleft] (prob2a) at (1394,5084) {\mk grep ''};
  \node [leaf,toleft] (prob3) at (1836,5152) {③. 问题：过滤时是否使用引号区别?};
  \node [leaf,toleft] (prob3a) at (1394,5152) {\mk egrep [ab]\{1,\} yuchao.txt};
  \node [marker,fill=markorg] (prob1m) at ([xshift=5.75pt]prob1a.west) {?};
  \node [marker,fill=markorg] (prob2m) at ([xshift=5.75pt]prob2a.west) {?};
  \node [marker,fill=markorg,font=\symfont\bfseries\fontsize{4}{4}\selectfont] (prob3m) at ([xshift=5.75pt]prob3a.west) {×};
  \node [leaf,toleft] (trait1) at (1836,5220) {①. 正则表达符号具有贪婪特性};
  \node [leaf,toleft] (trait2) at (1836,5288) {②. 基础正则转换扩展正则方法};
  \node [leaf,toleft] (trait3) at (1460,5288) {grep 'go\bsl{}+d'};
  \draw [llink] (prob.west) to (prob1.east);
  \draw [link] (prob.west) -- (prob2.east);
  \draw [llink] (prob.west) to (prob3.east);
  \draw [link] (prob1.west) -- (prob1a.east);
  \draw [link] (prob2.west) -- (prob2a.east);
  \draw [link] (prob3.west) -- (prob3a.east);
  \draw [llink] (trait.west) to (trait1.east);
  \draw [llink] (trait.west) to (trait2.east);
  \draw [link] (trait2.west) -- (trait3.east);
\end{tikzpicture}
\end{document}
